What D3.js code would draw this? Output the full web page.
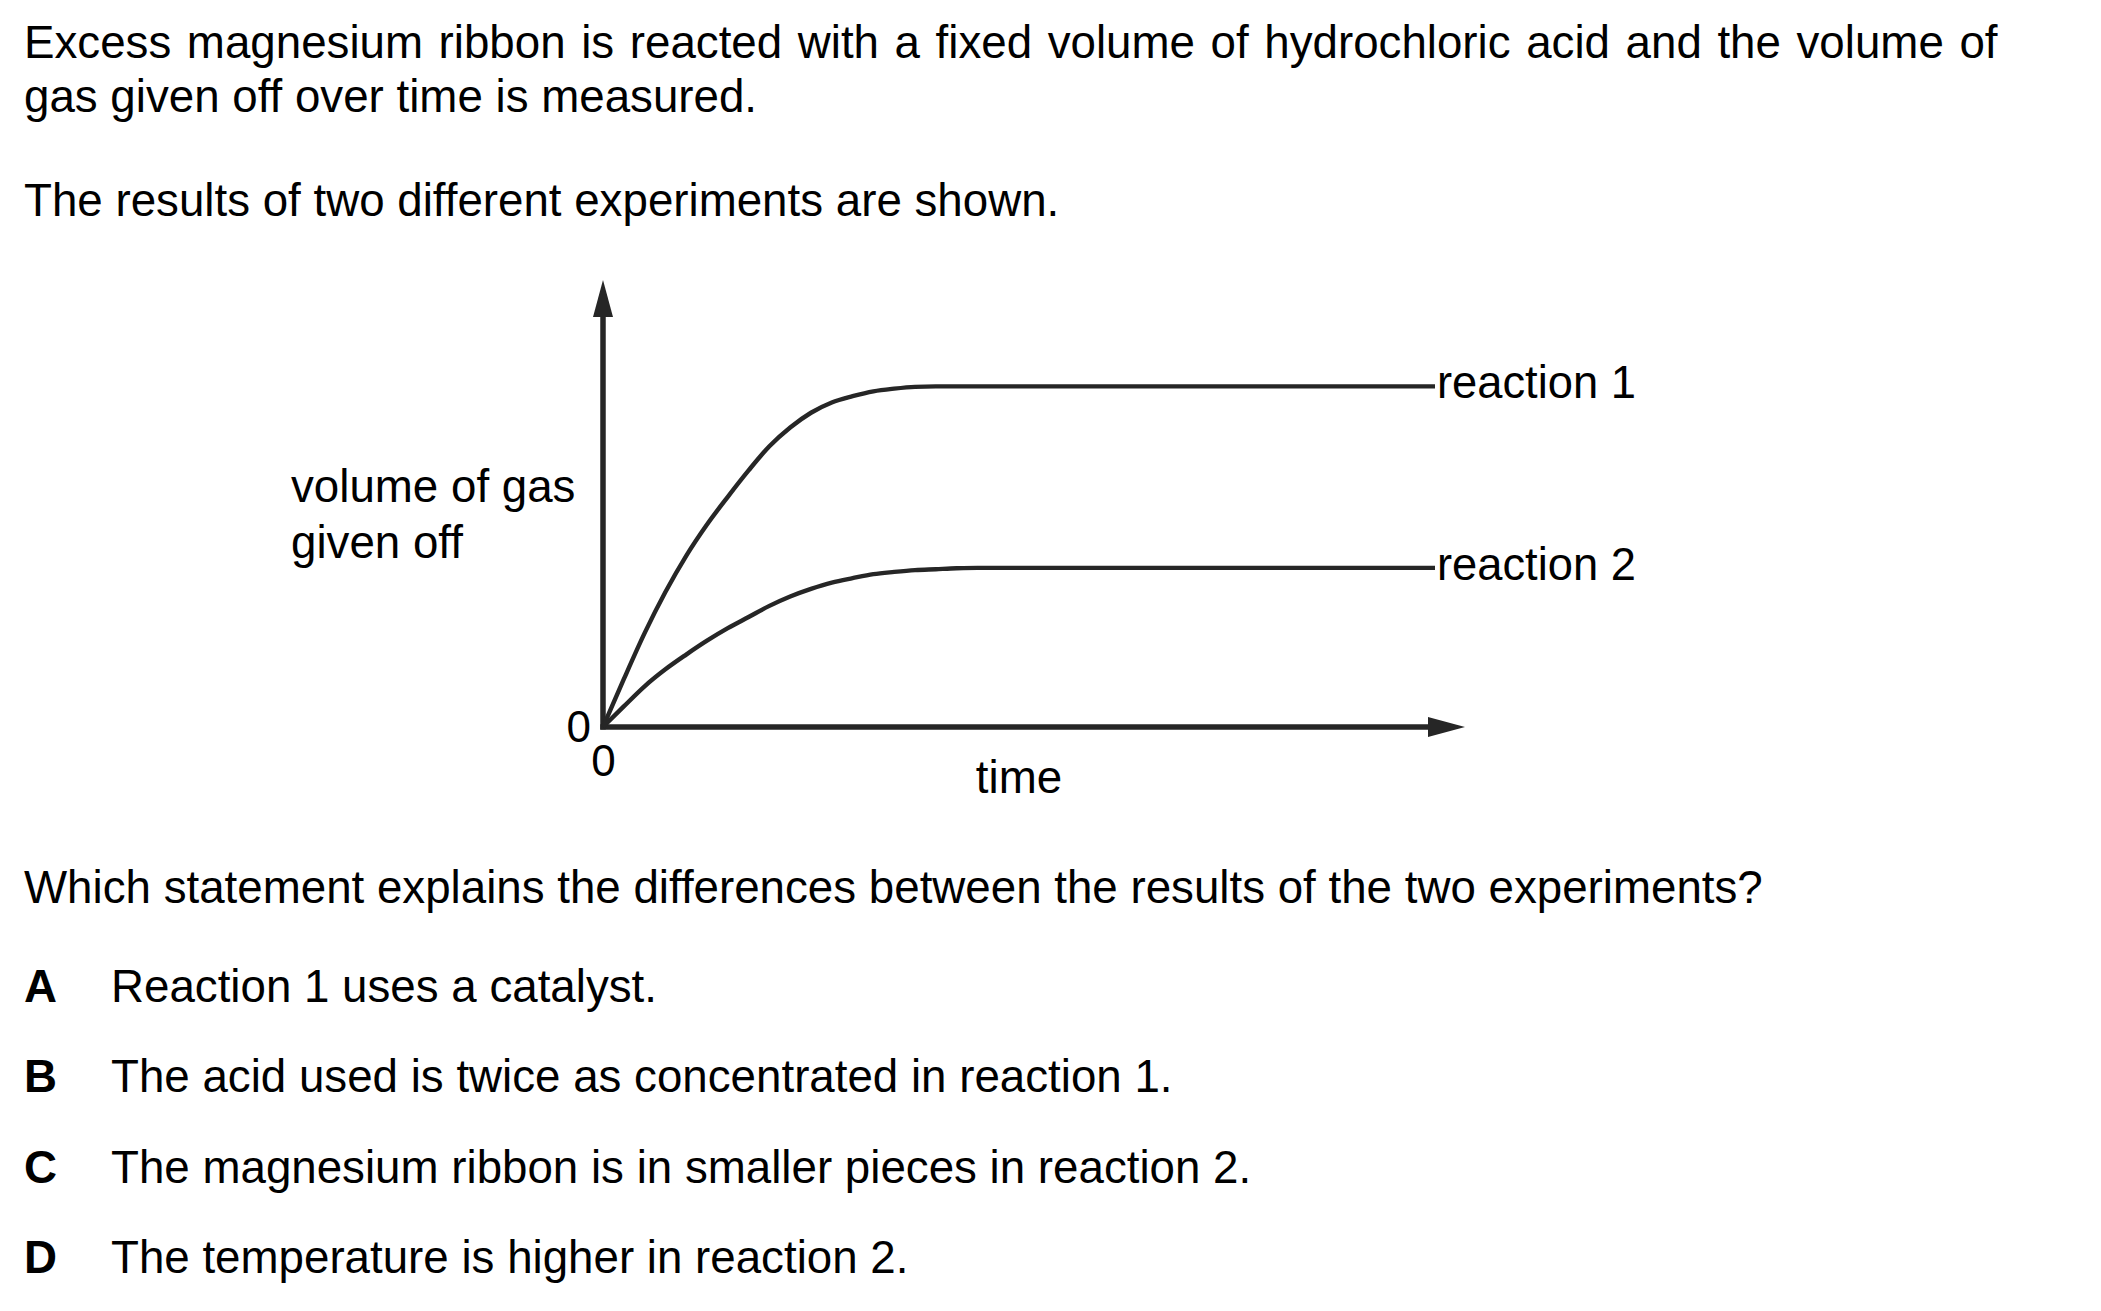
<!DOCTYPE html>
<html>
<head>
<meta charset="utf-8">
<script src="https://cdn.jsdelivr.net/npm/d3@7"></script>
<style>
  html, body { margin: 0; padding: 0; background: #fff; }
  svg { display: block; }
  text { font-family: "Liberation Sans", Arial, Helvetica, sans-serif; fill: #000; }
</style>
</head>
<body>
<svg id="chart" width="2101" height="1311"></svg>
<script>
// ---- data (arbitrary units) ----
const times      = [0, 5, 10, 15, 20, 25, 30, 35, 40, 45, 50, 55, 60, 65, 70, 75, 80, 85, 90, 200];
const reaction1  = [0, 10.7, 21.0, 30.2, 38.3, 45.3, 51.5, 57.4, 62.8, 67.0, 70.3, 72.6, 74.0, 75.1, 75.7, 76.1, 76.2, 76.2, 76.2, 76.2];
const reaction2  = [0, 4.6, 9.1, 12.9, 16.2, 19.3, 22.1, 24.6, 27.1, 29.2, 30.9, 32.3, 33.3, 34.2, 34.7, 35.1, 35.3, 35.5, 35.6, 35.6];
const seriesNames = ["reaction 1", "reaction 2"];
const xTickValues = [0];
const yTickValues = [0];
const introLines = [
  "Excess magnesium ribbon is reacted with a fixed volume of hydrochloric acid and the volume of",
  "gas given off over time is measured."
];
const introLine3 = "The results of two different experiments are shown.";
const yLabelLines = ["volume of gas", "given off"];
const xLabel = "time";
const question = "Which statement explains the differences between the results of the two experiments?";
const optionLetters = ["A", "B", "C", "D"];
const optionTexts = [
  "Reaction 1 uses a catalyst.",
  "The acid used is twice as concentrated in reaction 1.",
  "The magnesium ribbon is in smaller pieces in reaction 2.",
  "The temperature is higher in reaction 2."
];

// ---- layout ----
const svg = d3.select("#chart");
svg.append("rect").attr("width", 2101).attr("height", 1311).attr("fill", "#fff");
const FS = 45.7;
const ink = "#262626";

const x = d3.scaleLinear().domain([0, 200]).range([603, 1435]);
const y = d3.scaleLinear().domain([0, 100]).range([727, 280]);

// intro text
svg.selectAll("text.intro").data(introLines).join("text")
  .attr("class", "intro").attr("x", 24).attr("y", (d, i) => i === 0 ? 58 : 112)
  .attr("font-size", FS).attr("word-spacing", (d, i) => i === 0 ? 2.9 : 0).text(d => d);
svg.append("text").attr("x", 24).attr("y", 216).attr("font-size", FS).text(introLine3);

// axes lines with arrowheads
const g = svg.append("g");
const arrowLen = 37, arrowHalf = 10;
const xEnd = x.range()[1] + 30;
const yTop = y(100);
g.append("line").attr("x1", x(0)).attr("y1", y(0) + 2.5).attr("x2", x(0)).attr("y2", yTop + arrowLen)
  .attr("stroke", ink).attr("stroke-width", 5.5);
g.append("path")
  .attr("d", `M${x(0)},${yTop} L${x(0) - arrowHalf},${yTop + arrowLen} L${x(0) + arrowHalf},${yTop + arrowLen} Z`)
  .attr("fill", ink);
g.append("line").attr("x1", x(0) - 2.75).attr("y1", y(0)).attr("x2", xEnd - arrowLen).attr("y2", y(0))
  .attr("stroke", ink).attr("stroke-width", 5.5);
g.append("path")
  .attr("d", `M${xEnd},${y(0)} L${xEnd - arrowLen},${y(0) - arrowHalf} L${xEnd - arrowLen},${y(0) + arrowHalf} Z`)
  .attr("fill", ink);

// zero tick labels via d3 axes
const xAxis = d3.axisBottom(x).tickValues(xTickValues).tickSize(0).tickPadding(18).tickFormat(d3.format("d"));
const yAxis = d3.axisLeft(y).tickValues(yTickValues).tickSize(0).tickPadding(12).tickFormat(d3.format("d"));
const gx = svg.append("g").attr("transform", `translate(0,${y(0)})`).call(xAxis);
const gy = svg.append("g").attr("transform", `translate(${x(0)},0)`).call(yAxis);
[gx, gy].forEach(a => {
  a.select(".domain").remove();
  a.selectAll("text").attr("font-size", 44).attr("fill", "#000")
    .attr("font-family", '"Liberation Sans", Arial, sans-serif');
});

// curves
const line = d3.line().x(d => x(d[0])).y(d => y(d[1])).curve(d3.curveMonotoneX);
[reaction1, reaction2].forEach(vals => {
  svg.append("path").datum(times.map((t, i) => [t, vals[i]]))
    .attr("d", line).attr("fill", "none").attr("stroke", ink).attr("stroke-width", 4.4)
    .attr("stroke-linejoin", "round");
});

// series labels
[reaction1, reaction2].forEach((vals, i) => {
  svg.append("text").attr("x", x(times[times.length - 1]) + 2)
    .attr("y", y(vals[vals.length - 1]) + 12).attr("font-size", 45.3).text(seriesNames[i]);
});

// axis titles
svg.selectAll("text.ylab").data(yLabelLines).join("text").attr("class", "ylab")
  .attr("x", 291).attr("y", (d, i) => 502 + i * 56).attr("font-size", FS).text(d => d);
svg.append("text").attr("x", 1019).attr("y", 793).attr("text-anchor", "middle").attr("font-size", FS).text(xLabel);

// question and options
svg.append("text").attr("x", 24).attr("y", 903).attr("font-size", FS).text(question);
const optY = [1002, 1092, 1183, 1273];
optionLetters.forEach((L, i) => {
  svg.append("text").attr("x", 24).attr("y", optY[i]).attr("font-size", FS).attr("font-weight", "bold").text(L);
  svg.append("text").attr("x", 111).attr("y", optY[i]).attr("font-size", FS).text(optionTexts[i]);
});
</script>
</body>
</html>
